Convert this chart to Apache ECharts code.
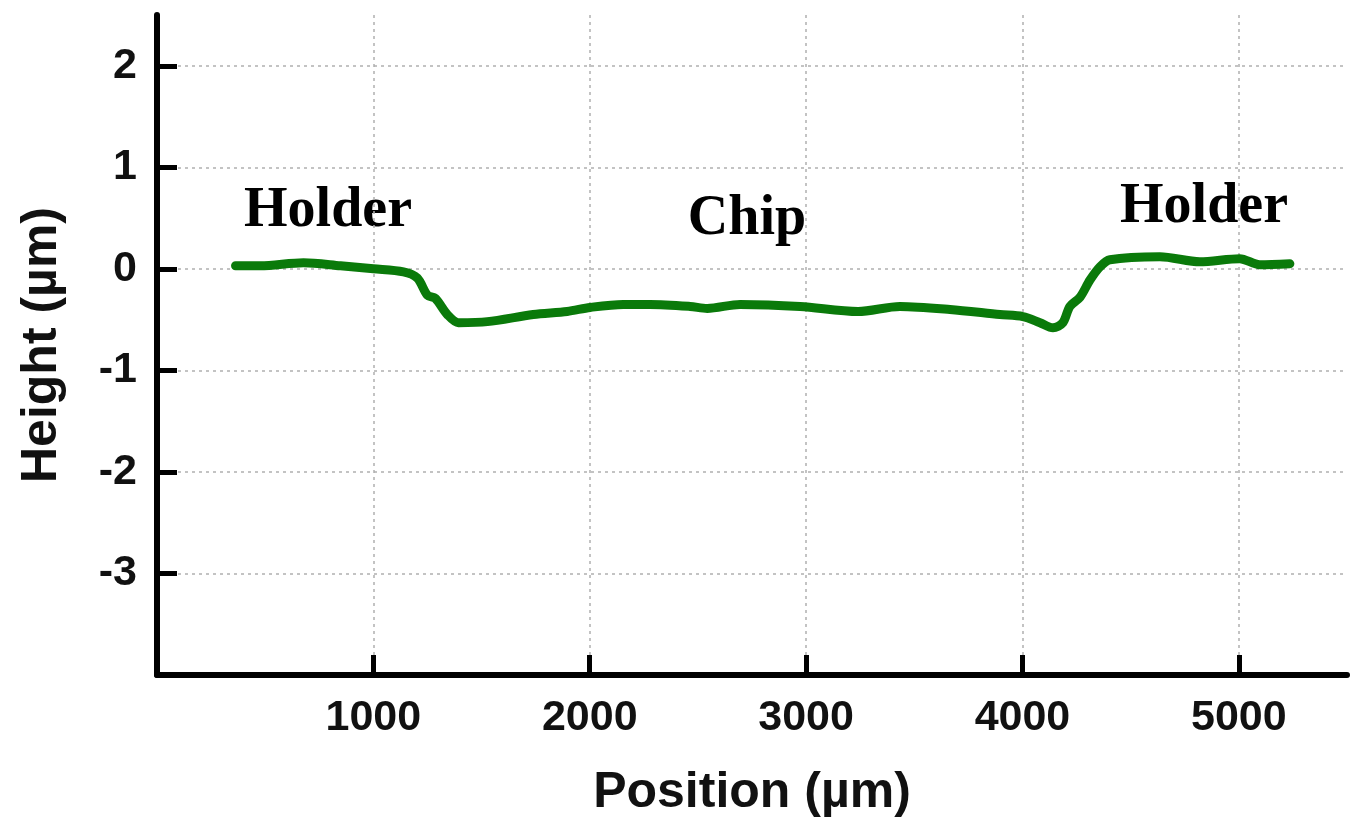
<!DOCTYPE html>
<html>
<head>
<meta charset="utf-8">
<script src="https://cdn.jsdelivr.net/npm/echarts@6/dist/echarts.min.js"></script>
<style>
html,body{margin:0;padding:0;background:#fff;}
#chart{width:1360px;height:821px;}
</style>
</head>
<body>
<div id="chart"></div>
<script>
// Profile data: position (µm) and height (µm)
var positions = [363, 478, 677, 848, 1000, 1139, 1203, 1250, 1286, 1342, 1393, 1527, 1739, 1896, 2002, 2155, 2279, 2464, 2543, 2695, 2972, 3240, 3434, 3665, 3896, 4002, 4081, 4141, 4187, 4219, 4266, 4312, 4358, 4404, 4635, 4820, 5004, 5097, 5236];
var heights   = [0.03, 0.03, 0.06, 0.03, 0.0, -0.03, -0.09, -0.26, -0.29, -0.45, -0.53, -0.52, -0.45, -0.42, -0.38, -0.35, -0.35, -0.37, -0.39, -0.35, -0.37, -0.42, -0.37, -0.40, -0.45, -0.47, -0.53, -0.58, -0.53, -0.37, -0.28, -0.11, 0.02, 0.09, 0.12, 0.07, 0.10, 0.04, 0.05];
var xTicks = [1000, 2000, 3000, 4000, 5000];
var yTicks = [-3, -2, -1, 0, 1, 2];
var annotations = ['Holder', 'Chip', 'Holder'];

var chart = echarts.init(document.getElementById('chart'));
var pts = positions.map(function (p, i) { return [p, heights[i]]; });
var labelFont = '"Liberation Sans", Arial, sans-serif';
var serif = '"Liberation Serif", "Times New Roman", serif';

chart.setOption({
  backgroundColor: '#ffffff',
  animation: false,
  grid: { left: 157, right: 13, top: 15, bottom: 146, containLabel: false, outerBoundsMode: 'none' },
  xAxis: {
    type: 'value', min: 0, max: 5500, interval: 1000,
    name: 'Position (µm)', nameLocation: 'middle', nameGap: 93,
    nameTextStyle: { fontFamily: labelFont, fontWeight: 'bold', fontSize: 50, color: '#111' },
    axisLine: { show: true, onZero: false, lineStyle: { color: '#000', width: 6, cap: 'round' } },
    axisTick: { show: true, inside: true, length: 20, customValues: xTicks, lineStyle: { color: '#000', width: 5 } },
    axisLabel: { customValues: xTicks, margin: 22, fontFamily: labelFont, fontWeight: 'bold', fontSize: 43, color: '#111',
      formatter: function (v) { return String(v); } },
    splitLine: { show: true, lineStyle: { color: '#b0b0b0', width: 1.5, type: [3, 4] } }
  },
  yAxis: {
    type: 'value', min: -4, max: 2.5, interval: 1,
    name: 'Height (µm)', nameLocation: 'middle', nameGap: 90,
    nameTextStyle: { fontFamily: labelFont, fontWeight: 'bold', fontSize: 50, color: '#111' },
    axisLine: { show: true, onZero: false, lineStyle: { color: '#000', width: 6, cap: 'round' } },
    axisTick: { show: true, inside: true, length: 20, customValues: yTicks, lineStyle: { color: '#000', width: 5 } },
    axisLabel: { customValues: yTicks, margin: 20, fontFamily: labelFont, fontWeight: 'bold', fontSize: 43, color: '#111',
      formatter: function (v) { return String(v); } },
    splitLine: { show: true, lineStyle: { color: '#b0b0b0', width: 1.5, type: [3, 4] } }
  },
  series: [{
    type: 'line', data: pts, showSymbol: false, smooth: 0.3,
    lineStyle: { color: '#0a7a0a', width: 9, cap: 'round', join: 'round' }
  }],
  graphic: [
    { type: 'text', style: { text: annotations[0], x: 328, y: 212, textAlign: 'center', textVerticalAlign: 'middle', font: 'bold 56px ' + serif, fill: '#000' } },
    { type: 'text', style: { text: annotations[1], x: 747, y: 220, textAlign: 'center', textVerticalAlign: 'middle', font: 'bold 56px ' + serif, fill: '#000' } },
    { type: 'text', style: { text: annotations[2], x: 1204, y: 208, textAlign: 'center', textVerticalAlign: 'middle', font: 'bold 56px ' + serif, fill: '#000' } }
  ]
});
</script>
</body>
</html>
